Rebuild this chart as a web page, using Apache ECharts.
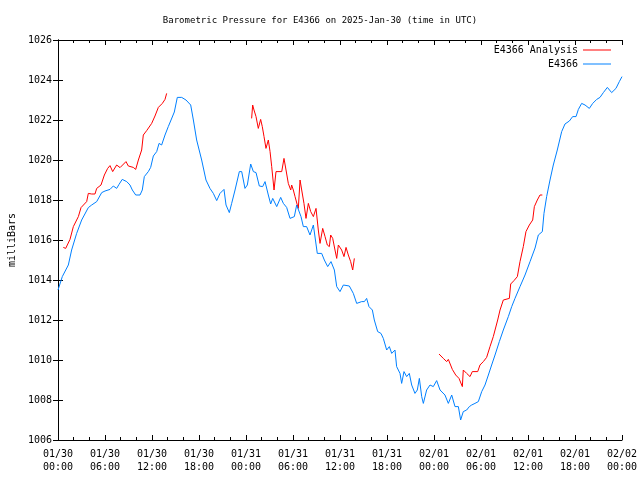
<!DOCTYPE html>
<html>
<head>
<meta charset="utf-8">
<script src="https://cdn.jsdelivr.net/npm/echarts@6/dist/echarts.min.js"></script>
<style>html,body{margin:0;padding:0;background:#fff}#c{width:640px;height:480px}</style>
</head>
<body>
<div id="c"></div>
<script>
// hours since 2025-01-30 00:00 UTC, pressure in mb
var xTickLabels = ['01/30\n00:00','01/30\n06:00','01/30\n12:00','01/30\n18:00','01/31\n00:00','01/31\n06:00','01/31\n12:00','01/31\n18:00','02/01\n00:00','02/01\n06:00','02/01\n12:00','02/01\n18:00','02/02\n00:00'];

var observed = [[0.0,1013.5],[0.55,1014.17],[1.32,1014.75],[1.74,1015.5],[2.38,1016.33],[3.02,1017.0],[3.87,1017.62],[4.3,1017.75],[4.94,1017.92],[5.58,1018.37],[6.0,1018.45],[6.64,1018.53],[7.06,1018.7],[7.49,1018.58],[7.79,1018.78],[8.2,1019.03],[8.77,1018.92],[9.19,1018.75],[9.49,1018.5],[9.92,1018.25],[10.47,1018.25],[10.76,1018.5],[11.02,1019.17],[11.53,1019.42],[11.83,1019.63],[12.17,1020.2],[12.6,1020.42],[12.9,1020.83],[13.23,1020.75],[13.66,1021.25],[14.08,1021.67],[14.43,1022.0],[14.85,1022.4],[15.23,1023.13],[15.79,1023.13],[16.34,1023.0],[16.94,1022.75],[17.28,1022.0],[17.7,1021.0],[18.34,1020.0],[18.89,1019.0],[19.4,1018.58],[19.83,1018.33],[20.26,1017.97],[20.68,1018.33],[21.19,1018.53],[21.45,1017.75],[21.87,1017.37],[22.17,1017.83],[22.6,1018.5],[23.15,1019.42],[23.45,1019.42],[23.87,1018.58],[24.17,1018.75],[24.6,1019.8],[24.94,1019.42],[25.28,1019.37],[25.7,1018.7],[26.13,1018.67],[26.43,1018.92],[26.85,1018.25],[27.15,1017.8],[27.41,1018.08],[27.92,1017.67],[28.43,1018.13],[28.77,1017.83],[29.19,1017.63],[29.62,1017.08],[30.17,1017.17],[30.47,1017.75],[30.68,1017.83],[31.02,1017.17],[31.32,1016.67],[31.74,1016.67],[32.17,1016.25],[32.6,1016.75],[32.81,1016.83],[33.1,1015.33],[33.32,1015.25],[33.66,1015.33],[34.0,1015.0],[34.43,1014.67],[34.85,1014.92],[35.28,1014.5],[35.58,1013.67],[36.0,1013.42],[36.43,1013.75],[36.64,1013.83],[37.19,1013.7],[37.7,1013.33],[38.13,1012.83],[38.34,1012.75],[38.77,1012.92],[39.11,1012.92],[39.4,1013.08],[39.7,1012.67],[40.13,1012.5],[40.38,1012.0],[40.81,1011.42],[41.23,1011.33],[41.53,1011.08],[41.96,1010.5],[42.3,1010.67],[42.6,1010.33],[43.02,1010.5],[43.23,1009.67],[43.66,1009.33],[43.87,1008.83],[44.17,1009.42],[44.51,1009.17],[44.85,1009.33],[45.15,1008.75],[45.57,1008.33],[45.87,1008.5],[46.13,1009.08],[46.43,1008.17],[46.64,1007.83],[47.06,1008.5],[47.49,1008.75],[47.91,1008.67],[48.34,1008.97],[48.77,1008.5],[49.4,1008.25],[49.83,1007.83],[50.26,1008.25],[50.68,1007.67],[51.11,1007.67],[51.4,1007.0],[51.74,1007.42],[52.17,1007.5],[52.51,1007.67],[52.81,1007.75],[53.23,1007.83],[53.66,1007.92],[54.09,1008.42],[54.51,1008.75],[54.94,1009.25],[55.36,1009.75],[55.79,1010.25],[56.34,1010.92],[56.85,1011.5],[57.49,1012.17],[57.92,1012.67],[58.34,1013.08],[58.98,1013.67],[59.62,1014.25],[60.26,1014.92],[60.9,1015.6],[61.32,1016.25],[61.83,1016.42],[62.04,1017.33],[62.38,1018.17],[62.81,1019.0],[63.23,1019.75],[63.74,1020.5],[64.3,1021.42],[64.72,1021.8],[65.28,1021.95],[65.7,1022.17],[66.13,1022.17],[66.43,1022.53],[66.85,1022.83],[67.28,1022.75],[67.83,1022.58],[68.26,1022.83],[68.77,1023.03],[69.19,1023.13],[69.62,1023.37],[70.13,1023.63],[70.68,1023.37],[71.23,1023.58],[71.66,1023.92],[72.0,1024.17]];

var analysis1 = [[0.68,1015.63],[0.98,1015.58],[1.53,1016.03],[1.96,1016.67],[2.6,1017.17],[2.94,1017.62],[3.66,1017.92],[3.87,1018.33],[4.3,1018.3],[4.72,1018.3],[4.94,1018.58],[5.49,1018.75],[5.92,1019.25],[6.34,1019.58],[6.64,1019.72],[6.98,1019.42],[7.49,1019.75],[7.7,1019.83],[7.92,1019.62],[8.68,1019.92],[8.98,1019.7],[9.61,1019.63],[9.92,1019.53],[10.26,1020.0],[10.68,1020.5],[10.89,1021.25],[11.32,1021.47],[11.96,1021.83],[12.38,1022.2],[12.81,1022.63],[13.32,1022.83],[13.66,1023.03],[13.87,1023.33]];

var analysis2 = [[24.72,1022.08],[24.85,1022.75],[25.02,1022.5],[25.28,1022.17],[25.57,1021.58],[25.87,1022.03],[26.08,1021.67],[26.3,1021.17],[26.55,1020.58],[26.85,1021.0],[27.07,1020.42],[27.28,1019.67],[27.58,1018.5],[27.83,1019.42],[28.0,1019.5],[28.56,1019.42],[28.85,1020.08],[29.11,1019.5],[29.4,1018.83],[29.71,1018.5],[29.83,1018.75],[30.04,1018.5],[30.26,1018.17],[30.55,1017.75],[30.68,1017.58],[30.9,1019.0],[31.11,1018.5],[31.4,1017.83],[31.66,1017.08],[31.96,1017.83],[32.26,1017.42],[32.6,1017.17],[32.94,1017.58],[33.23,1016.5],[33.45,1015.83],[33.79,1016.58],[34.09,1016.17],[34.38,1015.75],[34.64,1015.67],[34.81,1016.25],[35.07,1016.08],[35.36,1015.5],[35.58,1015.08],[35.79,1015.75],[36.21,1015.5],[36.51,1015.17],[36.77,1015.63],[37.06,1015.25],[37.36,1014.92],[37.62,1014.5],[37.83,1015.08]];

var analysis3 = [[48.64,1010.3],[49.19,1010.08],[49.62,1009.92],[49.83,1010.03],[50.34,1009.53],[50.77,1009.25],[51.19,1009.08],[51.62,1008.67],[51.74,1009.5],[52.17,1009.33],[52.6,1009.17],[52.89,1009.42],[53.58,1009.42],[53.87,1009.75],[54.3,1009.92],[54.72,1010.13],[55.15,1010.67],[55.57,1011.17],[56.13,1012.0],[56.43,1012.5],[56.85,1013.0],[57.62,1013.08],[57.79,1013.8],[58.21,1013.97],[58.64,1014.17],[58.98,1014.92],[59.4,1015.67],[59.74,1016.42],[60.17,1016.75],[60.6,1017.0],[60.81,1017.67],[61.19,1018.0],[61.53,1018.25],[61.83,1018.25]];

var analysisData = analysis1.concat([[24.0,'-']], analysis2, [[45.0,'-']], analysis3);

var mono = 'DejaVu Sans Mono';
var chart = echarts.init(document.getElementById('c'), null, {renderer:'canvas'});
var xCommon = {
  type:'value', min:0, max:72, interval:6,
  axisLine:{show:true, lineStyle:{color:'#000', width:1}},
  axisTick:{show:true, inside:true, length:5, lineStyle:{color:'#000'}},
  minorTick:{show:true, splitNumber:3, length:3, lineStyle:{color:'#000'}},
  splitLine:{show:false}
};
var yCommon = {
  type:'value', min:1006, max:1026, interval:2,
  axisLine:{show:true, lineStyle:{color:'#000', width:1}},
  axisTick:{show:true, inside:true, length:5, lineStyle:{color:'#000'}},
  splitLine:{show:false}
};
var lineIcon = 'path://M0,4.5 L28,4.5 L28,5.5 L0,5.5 Z';
chart.setOption({
  animation:false,
  backgroundColor:'#fff',
  title:{text:'Barometric Pressure for E4366 on 2025-Jan-30 (time in UTC)', left:'center', top:11,
    textStyle:{fontFamily:mono, fontSize:9, fontWeight:'normal', color:'#000'}},
  legend:{orient:'vertical', right:24, top:40, align:'right', itemGap:4, itemWidth:28, itemHeight:10,
    textStyle:{fontFamily:mono, fontSize:10, color:'#000'},
    data:[{name:'E4366 Analysis', icon:lineIcon},{name:'E4366', icon:lineIcon}]},
  grid:{left:58, right:18, top:40, bottom:40, containLabel:false, outerBoundsMode:'none'},
  xAxis:[
    Object.assign({}, xCommon, {position:'bottom',
      axisLabel:{show:true, margin:8, fontFamily:mono, fontSize:10, color:'#000', lineHeight:13,
        formatter:function(v){ var i = Math.round(v/6); return xTickLabels[i] || ''; }}}),
    Object.assign({}, xCommon, {position:'top', axisLabel:{show:false}})
  ],
  yAxis:[
    Object.assign({}, yCommon, {position:'left', name:'milliBars', nameLocation:'middle', nameGap:40, nameRotate:90,
      nameTextStyle:{fontFamily:mono, fontSize:10, color:'#000'},
      axisLabel:{show:true, margin:6, fontFamily:mono, fontSize:10, color:'#000',
        formatter:function(v){ return String(v); }}}),
    Object.assign({}, yCommon, {position:'right', axisLabel:{show:false}})
  ],
  series:[
    {name:'E4366 Analysis', type:'line', data:analysisData, showSymbol:false, symbol:'none', connectNulls:false,
      lineStyle:{color:'#ff0000', width:1}, itemStyle:{color:'#ff0000'}},
    {name:'E4366', type:'line', data:observed, showSymbol:false, symbol:'none',
      lineStyle:{color:'#0080ff', width:1}, itemStyle:{color:'#0080ff'}}
  ]
});
</script>
</body>
</html>
